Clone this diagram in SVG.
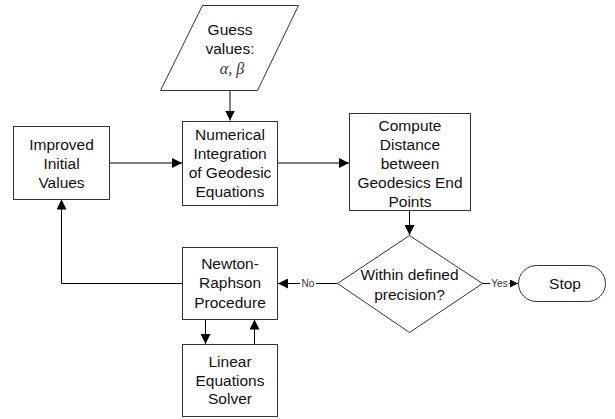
<svg xmlns="http://www.w3.org/2000/svg" width="615" height="419" viewBox="0 0 615 419">
<defs>
<style>
.box{fill:#fff;stroke:#333;stroke-width:1}
.t{font-family:"Liberation Sans",Arial,sans-serif;font-size:15.5px;fill:#111;text-anchor:middle}
.lbl{font-family:"Liberation Sans",Arial,sans-serif;font-size:10px;fill:#333;text-anchor:middle}
.g{font-family:"Liberation Serif","Times New Roman",serif;font-style:italic;font-size:16px;fill:#333;text-anchor:middle}
.c{fill:none;stroke:#000;stroke-width:1}
</style>
<marker id="ah" markerUnits="userSpaceOnUse" markerWidth="10" markerHeight="10" viewBox="0 0 10 10" refX="10" refY="5" orient="auto">
<path d="M0,0 L10,5 L0,10 Z" fill="#000"/>
</marker>
<marker id="ahs" markerUnits="userSpaceOnUse" markerWidth="8" markerHeight="8" viewBox="0 0 10 10" refX="10" refY="5" orient="auto">
<path d="M0,0 L10,5 L0,10 Z" fill="#000"/>
</marker>
</defs>
<rect width="615" height="419" fill="#fff"/>
<g id="connectors">
<path class="c" d="M230,90.5 V120.5" marker-end="url(#ah)"/>
<path class="c" d="M109.5,163 H182" marker-end="url(#ah)"/>
<path class="c" d="M278,163 H349" marker-end="url(#ah)"/>
<path class="c" d="M409.5,211 V235" marker-end="url(#ah)"/>
<path class="c" d="M482,283.5 H490"/>
<path class="c" d="M509,283.5 H518" marker-end="url(#ahs)"/>
<text class="lbl" x="499.5" y="287">Yes</text>
<path class="c" d="M337,283.5 H316"/>
<path class="c" d="M300,283.5 H278" marker-end="url(#ah)"/>
<text class="lbl" x="308" y="287">No</text>
<path class="c" d="M182,283.5 H61.5 V199.5" marker-end="url(#ah)"/>
<path class="c" d="M205.5,319.5 V344" marker-end="url(#ah)"/>
<path class="c" d="M254.5,344 V319.5" marker-end="url(#ah)"/>
</g>
<g id="guess">
<polygon class="box" points="202.5,5.5 298.5,5.5 257.5,90.5 160.5,90.5"/>
<text class="t" x="230" y="34.5">Guess</text>
<text class="t" x="230" y="53.5">values:</text>
<text class="g" x="232" y="74">α, β</text>
</g>
<g id="improved">
<rect class="box" x="13.5" y="126.5" width="96" height="73"/>
<text class="t" x="61.5" y="149.5">Improved</text>
<text class="t" x="61.5" y="168.5">Initial</text>
<text class="t" x="61.5" y="187.5">Values</text>
</g>
<g id="numerical">
<rect class="box" x="182.5" y="121.5" width="95" height="84"/>
<text class="t" x="230" y="139.5">Numerical</text>
<text class="t" x="230" y="158.5">Integration</text>
<text class="t" x="230" y="177.5">of Geodesic</text>
<text class="t" x="230" y="196.5">Equations</text>
</g>
<g id="compute">
<rect class="box" x="349.5" y="113.5" width="121" height="97"/>
<text class="t" x="410" y="130.5">Compute</text>
<text class="t" x="410" y="149.5">Distance</text>
<text class="t" x="410" y="168.5">between</text>
<text class="t" x="410" y="187.5">Geodesics End</text>
<text class="t" x="410" y="206.5">Points</text>
</g>
<g id="decision">
<polygon class="box" points="409.5,235.5 482.5,283.5 409.5,332.5 337.5,283.5"/>
<text class="t" x="409.5" y="279.5">Within defined</text>
<text class="t" x="409.5" y="299.5">precision?</text>
</g>
<g id="stop">
<rect class="box" x="518.5" y="265.5" width="87" height="36" rx="18" ry="18"/>
<text class="t" x="565" y="289">Stop</text>
</g>
<g id="newton">
<rect class="box" x="182.5" y="247.5" width="95" height="72"/>
<text class="t" x="230" y="268.5">Newton-</text>
<text class="t" x="230" y="288">Raphson</text>
<text class="t" x="230" y="307.5">Procedure</text>
</g>
<g id="linear">
<rect class="box" x="182.5" y="344.5" width="95" height="72"/>
<text class="t" x="230" y="366.5">Linear</text>
<text class="t" x="230" y="385.5">Equations</text>
<text class="t" x="230" y="403.5">Solver</text>
</g>
</svg>
